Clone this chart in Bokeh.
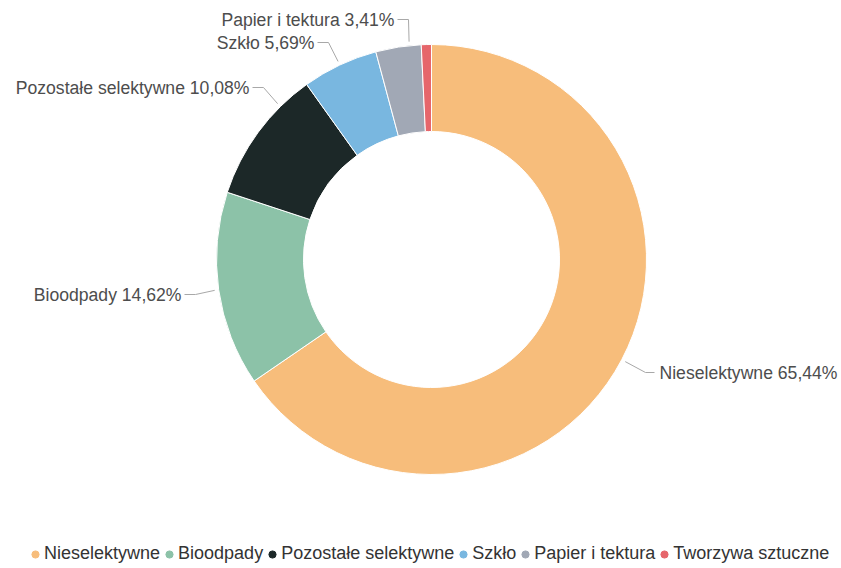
import math
from bokeh.plotting import figure
from bokeh.models import Range1d, ColumnDataSource, Legend, LegendItem
from bokeh.core.properties import value
from bokeh.embed import file_html
from bokeh.resources import INLINE

# ---- data ----
categories = ["Nieselektywne", "Bioodpady", "Pozostałe selektywne", "Szkło",
              "Papier i tektura", "Tworzywa sztuczne"]
shares = [65.44, 14.62, 10.08, 5.69, 3.41, 0.76]
label_texts = ["Nieselektywne 65,44%", "Bioodpady 14,62%", "Pozostałe selektywne 10,08%",
               "Szkło 5,69%", "Papier i tektura 3,41%", ""]
colors = ["#F7BD7B", "#8CC2A8", "#1C2828", "#79B7E0", "#A1A8B5", "#E6666B"]

# ---- layout (screen pixels) ----
W, H = 841, 568
CX, CY_SCREEN = 431, 259
R_OUT, R_IN = 215, 128
# label anchor (screen x, screen y), side, connector angle nudge (deg)
label_layout = [
    (659, 372, "right", 0),
    (181, 294, "left", 0),
    (249, 87, "left", 9),
    (314, 42, "left", 0),
    (394, 19, "left", 3),
    None,
]

def sy(y):
    return H - y

p = figure(width=W, height=H, output_backend="svg", toolbar_location=None,
           x_range=Range1d(0, W), y_range=Range1d(0, H),
           min_border=0, outline_line_color=None)
p.axis.visible = False
p.grid.visible = False
p.background_fill_color = "white"
p.border_fill_color = "white"

total = sum(shares)
starts, ends, mids = [], [], []
cum = 0.0
for s in shares:
    a0 = cum / total
    cum += s
    a1 = cum / total
    starts.append(math.pi / 2 - 2 * math.pi * a0)
    ends.append(math.pi / 2 - 2 * math.pi * a1)
    mids.append((a0 + a1) / 2)

src = ColumnDataSource(dict(x=[CX] * len(shares), y=[sy(CY_SCREEN)] * len(shares),
                            start=starts, end=ends, color=colors, cat=categories))
p.annular_wedge(x="x", y="y", inner_radius=R_IN, outer_radius=R_OUT,
                start_angle="start", end_angle="end", direction="clock",
                fill_color="color", line_color="white", line_width=1, source=src)

# labels + connectors
lx, ly, lt = [], [], []
rx, ry, rt = [], [], []
xs, ys = [], []
for i, lay in enumerate(label_layout):
    if lay is None or not label_texts[i]:
        continue
    tx, ty, side, nudge = lay
    theta = 2 * math.pi * mids[i] + math.radians(nudge)  # clockwise from top
    px = CX + (R_OUT + 4) * math.sin(theta)
    py = CY_SCREEN - (R_OUT + 4) * math.cos(theta)
    if side == "right":
        elbow = tx - 14
        end = tx - 5
        rx.append(tx); ry.append(sy(ty)); rt.append(label_texts[i])
    else:
        elbow = tx + 14
        end = tx + 3
        lx.append(tx); ly.append(sy(ty)); lt.append(label_texts[i])
    xs.append([px, elbow, end])
    ys.append([sy(py), sy(ty), sy(ty)])

p.multi_line(xs=xs, ys=ys, line_color="#A8A8A8", line_width=1)
p.text(x=rx, y=ry, text=rt, text_align="left", text_baseline="middle",
       text_font=value("Liberation Sans"), text_font_size="17.6px", text_color="#4D4D4D")
p.text(x=lx, y=ly, text=lt, text_align="right", text_baseline="middle",
       text_font=value("Liberation Sans"), text_font_size="17.6px", text_color="#4D4D4D")

# legend with circle markers (proxy points outside the visible range)
items = []
for c, col in zip(categories, colors):
    r = p.scatter(x=[-1000], y=[-1000], marker="circle", size=8,
                  fill_color=col, line_color=col)
    items.append(LegendItem(label=c, renderers=[r]))
legend = Legend(items=items, orientation="horizontal", location=(26, 4),
                label_text_font="Liberation Sans", label_text_font_size="18px",
                label_text_color="#333333", glyph_width=18, glyph_height=18,
                label_standoff=-5, spacing=0, padding=0, margin=0,
                border_line_alpha=0, background_fill_alpha=0)
p.add_layout(legend)

open("out.html", "w").write(file_html(p, INLINE))
